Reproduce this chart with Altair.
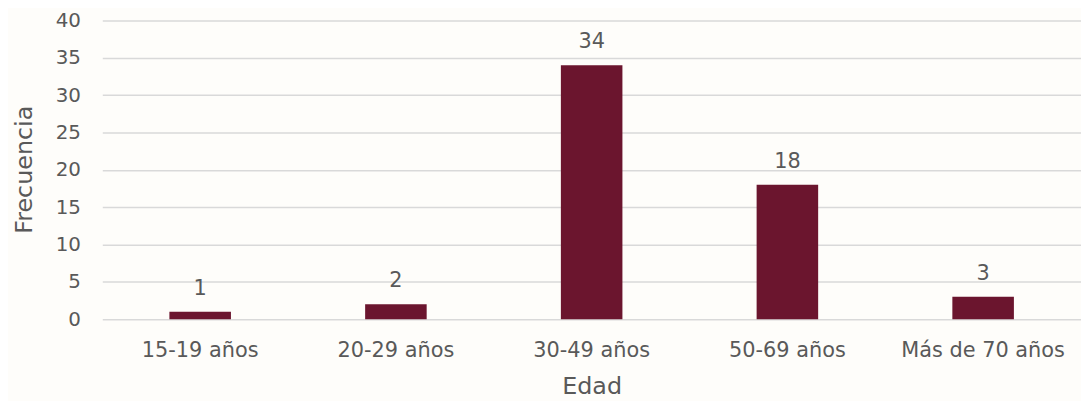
import altair as alt
import pandas as pd

categories = ["15-19 años", "20-29 años", "30-49 años", "50-69 años", "Más de 70 años"]
values = [1, 2, 34, 18, 3]
y_ticks = [0, 5, 10, 15, 20, 25, 30, 35, 40]

df = pd.DataFrame({"Edad": categories, "Frecuencia": values})

FONT = "DejaVu Sans"
TXT = "#595959"

x = alt.X("Edad:N", sort=categories, title="Edad",
          scale=alt.Scale(paddingInner=0, paddingOuter=0),
          axis=alt.Axis(labelAngle=0, labelFontSize=21, labelColor=TXT, labelFont=FONT,
                        labelPadding=21, ticks=False, domain=False,
                        titleFontSize=24, titleFont=FONT, titleColor=TXT, titleFontWeight="normal",
                        titleY=68, titleBaseline="middle"))
y = alt.Y("Frecuencia:Q", title="Frecuencia",
          scale=alt.Scale(domain=[0, 40], nice=False),
          axis=alt.Axis(values=y_ticks, labelOverlap=False, labelFontSize=20, labelColor=TXT,
                        labelFont=FONT, labelPadding=22, ticks=False, domain=False,
                        gridColor="#d9d9d9", gridWidth=1.5,
                        titleFontSize=24, titleFont=FONT, titleColor=TXT, titleFontWeight="normal",
                        titleAngle=-90, titleX=-78, titleY=150, titleAlign="center",
                        titleBaseline="middle"))

bars = alt.Chart(df).mark_bar(size=62, color="#6B152E").encode(x=x, y=y)
labels = alt.Chart(df).mark_text(baseline="bottom", dy=-13, fontSize=21, font=FONT, color=TXT).encode(
    x=x, y=y, text="Frecuencia:Q")

chart = (bars + labels).properties(
    width=986, height=301,
    autosize=alt.AutoSizeParams(type="none"),
    padding={"left": 95, "top": 11, "right": 0, "bottom": 85},
    background="#FEFDFA",
).configure_view(stroke=None)

chart.save("out.html", embed_options={"renderer": "svg", "actions": False})
